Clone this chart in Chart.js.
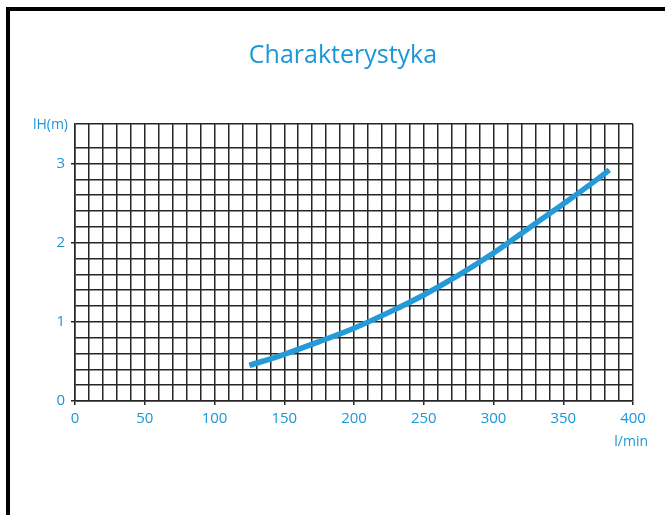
<!DOCTYPE html>
<html>
<head>
<meta charset="utf-8">
<script src="https://cdn.jsdelivr.net/npm/chart.js@4"></script>
<style>
  html, body { margin: 0; padding: 0; background: #fff; }
  #wrap { width: 665px; height: 515px; }
</style>
</head>
<body>
<div id="wrap"><canvas id="chart" width="665" height="515"></canvas></div>
<script>
// dane
var tytul = 'Charakterystyka';
var osX_tytul = 'l/min';
var osY_tytul = 'lH(m)';
var przeplyw = [125, 150, 175, 200, 225, 250, 275, 300, 325, 350, 375, 383];
var wysokosc = [0.45, 0.59, 0.75, 0.92, 1.12, 1.34, 1.59, 1.87, 2.18, 2.49, 2.81, 2.92];
var xMin = 0, xMax = 400, xKrok = 10, xEtykieta = 50;
var yMin = 0, yMax = 3.5, yKrok = 0.2, yEtykieta = 1;

var niebieski = '#1b97d7';
var siatka = '#262626';
var czcionka = "'Open Sans', sans-serif";

var punkty = przeplyw.map(function (x, i) { return { x: x, y: wysokosc[i] }; });

function czyEtykieta(v, krok) {
	return Math.abs(v / krok - Math.round(v / krok)) < 1e-6;
}

// ramka, tytul i opisy osi
var opisy = {
	id: 'opisy',
	beforeDraw: function (chart) {
		var c = chart.ctx;
		c.save();
		c.fillStyle = '#fff';
		c.fillRect(0, 0, chart.width, chart.height);
		c.fillStyle = '#000';
		c.fillRect(6, 7, 4, chart.height - 7);
		c.fillRect(6, 7, chart.width - 6, 4);
		c.restore();
	},
	afterDraw: function (chart) {
		var c = chart.ctx;
		c.save();
		c.fillStyle = niebieski;
		c.textBaseline = 'middle';
		c.textAlign = 'center';
		c.font = '25px ' + czcionka;
		c.fillText(tytul, 343, 56);
		c.font = '14px ' + czcionka;
		c.textAlign = 'right';
		c.fillText(osY_tytul, 68, 125);
		c.fillText(osX_tytul, 648, 442);
		c.restore();
	}
};

new Chart(document.getElementById('chart'), {
	type: 'scatter',
	data: {
		datasets: [{
			data: punkty,
			showLine: true,
			borderColor: '#249bd8',
			borderWidth: 5.5,
			pointRadius: 0,
			cubicInterpolationMode: 'monotone',
			fill: false
		}]
	},
	options: {
		responsive: false,
		animation: false,
		layout: { padding: { top: 124, right: 32, left: 0, bottom: 0 } },
		plugins: { legend: { display: false }, tooltip: { enabled: false } },
		scales: {
			x: {
				type: 'linear',
				min: xMin, max: xMax,
				afterFit: function (s) { s.height = 114; },
				border: { display: true, color: siatka, width: 1.5 },
				grid: {
					color: siatka, lineWidth: 1.5, tickLength: 4,
					tickColor: function (ctx) { return ctx.tick && czyEtykieta(ctx.tick.value, xEtykieta) ? siatka : 'rgba(0,0,0,0)'; }
				},
				ticks: {
					stepSize: xKrok, autoSkip: false, maxRotation: 0, padding: 5,
					color: niebieski, font: { family: czcionka, size: 15 },
					callback: function (v) { return czyEtykieta(v, xEtykieta) ? Math.round(v) : ''; }
				}
			},
			y: {
				min: yMin, max: yMax,
				afterFit: function (s) { s.width = 75; },
				border: { display: true, color: siatka, width: 1.5 },
				grid: {
					color: siatka, lineWidth: 1.5, tickLength: 4,
					tickColor: function (ctx) { return ctx.tick && czyEtykieta(ctx.tick.value, yEtykieta) ? siatka : 'rgba(0,0,0,0)'; }
				},
				ticks: {
					stepSize: yKrok, autoSkip: false, padding: 6,
					color: niebieski, font: { family: czcionka, size: 15 },
					callback: function (v) { return czyEtykieta(v, yEtykieta) ? Math.round(v) : ''; }
				}
			}
		}
	},
	plugins: [opisy]
});
</script>
</body>
</html>
